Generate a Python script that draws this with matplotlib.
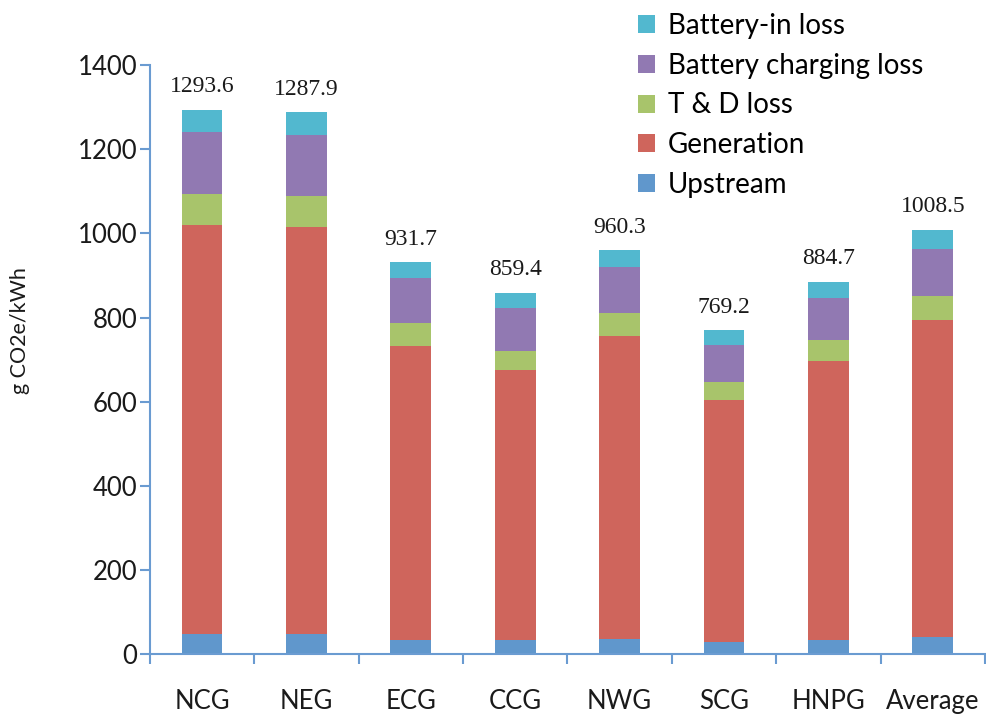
import numpy as np
import matplotlib
matplotlib.use("Agg")
import matplotlib.pyplot as plt
from matplotlib.patches import Patch

# grid regions and the emission components (g CO2e/kWh)
regions = ['NCG', 'NEG', 'ECG', 'CCG', 'NWG', 'SCG', 'HNPG', 'Average']
upstream = [48, 48, 33, 33, 35, 29, 32, 40]
generation = [972, 967, 700, 643, 720, 574, 664, 754]
td_loss = [73, 74, 53, 45, 56, 43, 50, 57]
charging_loss = [148, 146, 108, 102, 109, 89, 100, 113]
battery_in_loss = [52.6, 52.9, 37.7, 36.4, 40.3, 34.2, 38.7, 44.5]
totals = ['1293.6', '1287.9', '931.7', '859.4', '960.3', '769.2', '884.7', '1008.5']

series = [
    ('Upstream', upstream, '#6097cc'),
    ('Generation', generation, '#cf655c'),
    ('T & D loss', td_loss, '#a8c46b'),
    ('Battery charging loss', charging_loss, '#9179b2'),
    ('Battery-in loss', battery_in_loss, '#52b8cf'),
]

plt.rcParams['font.family'] = ['Lato', 'DejaVu Sans']
axis_color = '#6a9bd1'

fig = plt.figure(figsize=(9.86, 7.17), dpi=100)
ax = fig.add_axes([0.152, 0.088, 0.847, 0.821])

x = np.arange(len(regions))
bottom = np.zeros(len(regions))
handles = []
for name, vals, col in series:
    vals = np.array(vals, dtype=float)
    ax.bar(x, vals, width=0.39, bottom=bottom, color=col, edgecolor='none')
    bottom += vals
    handles.append(Patch(facecolor=col, edgecolor='none', label=name))

# total labels on top of the bars
for xi, top, lab in zip(x, bottom, totals):
    ax.annotate(lab, (xi, top), xytext=(0, 9), textcoords='offset points',
                ha='center', va='bottom', fontsize=17,
                family='Liberation Serif', color='#1a1a1a')

ax.set_xlim(-0.5, len(regions) - 0.5)
ax.set_ylim(0, 1400)
ax.set_yticks(np.arange(0, 1401, 200))

ax.set_xticks(x)
ax.set_xticklabels(regions)
ax.set_xticks(np.arange(-0.5, len(regions), 1.0), minor=True)
ax.tick_params(axis='x', which='major', length=0, pad=25, labelsize=18.5,
               colors='#1a1a1a')
ax.tick_params(axis='x', which='minor', length=7, width=1.5, color=axis_color,
               direction='out')
ax.tick_params(axis='y', length=7, width=1.5, color=axis_color, direction='out',
               pad=2, labelsize=18.5, labelcolor='#1a1a1a')

for s in ['top', 'right']:
    ax.spines[s].set_visible(False)
for s in ['left', 'bottom']:
    ax.spines[s].set_color(axis_color)
    ax.spines[s].set_linewidth(1.5)

ax.set_ylabel('g CO2e/kWh', fontsize=15.5, color='#1a1a1a')
ax.yaxis.set_label_coords(-0.143, 0.55)

fig.legend(handles=handles[::-1], loc='upper left',
           bbox_to_anchor=(0.630, 1.005), frameon=False, fontsize=20,
           handlelength=0.62, handleheight=0.62, handletextpad=0.45,
           labelspacing=0.49, borderaxespad=0.2)

fig.savefig('out.png', dpi=100)
